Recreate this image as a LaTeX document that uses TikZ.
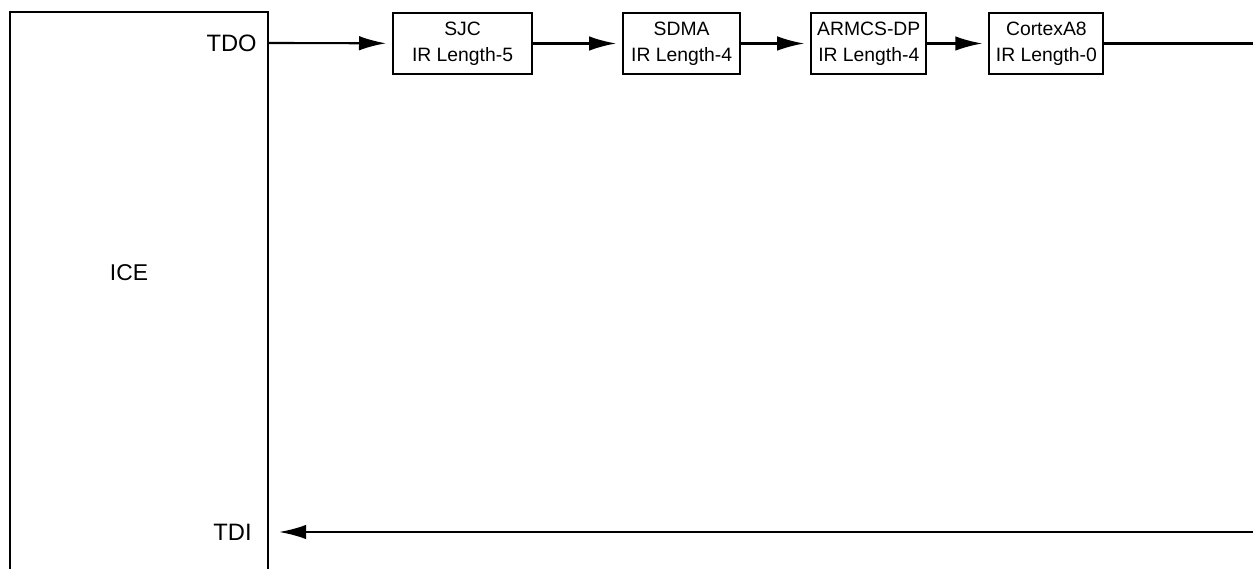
\documentclass[tikz,border=0pt]{standalone}
\usepackage{fontspec}
\setmainfont{Liberation Sans}
\usetikzlibrary{arrows.meta,positioning}
\tikzset{%
  chip/.style={draw,line width=1.2pt,align=center,minimum height=12.2mm,inner sep=2pt,font=\fontsize{11}{15}\selectfont},
  port/.style={anchor=east,inner sep=0pt,font=\fontsize{13.5}{15}\selectfont},
  wire/.style={line width=1.2pt},
  arrow/.style={-{Latex[length=5.4mm,width=2.9mm]},line width=1.2pt,shorten >=1.2mm}%
}
\begin{document}
\begin{tikzpicture}
\useasboundingbox (0,0) rectangle (25.06,11.38);

% emulator on the left, open at the bottom
\node[draw,line width=1.2pt,minimum width=51.6mm,minimum height=130mm,anchor=north west,inner sep=0pt] (ice) at (0.18,11.16) {};
\node[font=\fontsize{13}{15}\selectfont] (icename) at (2.58,5.92) {ICE};
\node[port] (tdo) at (5.14,10.52) {TDO};
\node[port] (tdi) at (5.04,0.74) {TDI};

% scan chain
\node[chip,minimum width=27.8mm,anchor=west] (sjc) at (7.84,10.51)
{SJC\\IR Length-5};
\node[chip,minimum width=23.4mm,right=17.8mm of sjc] (sdma)
{SDMA\\IR Length-4};
\node[chip,minimum width=23mm,right=13.8mm of sdma] (armcs)
{ARMCS-DP\\IR Length-4};
\node[chip,minimum width=22.8mm,right=12.2mm of armcs] (cortex)
{CortexA8\\IR Length-0};

\coordinate (loopout) at (25.06,10.51);
\coordinate (loopin) at (25.06,0.74);

\draw[arrow] (ice.east |- tdo) -- (sjc);
\draw[arrow] (sjc) -- (sdma);
\draw[arrow] (sdma) -- (armcs);
\draw[arrow] (armcs) -- (cortex);
\draw[wire] (cortex) -- (loopout);
\draw[arrow,shorten >=2mm] (loopin) -- (ice.east |- tdi);

\end{tikzpicture}
\end{document}
